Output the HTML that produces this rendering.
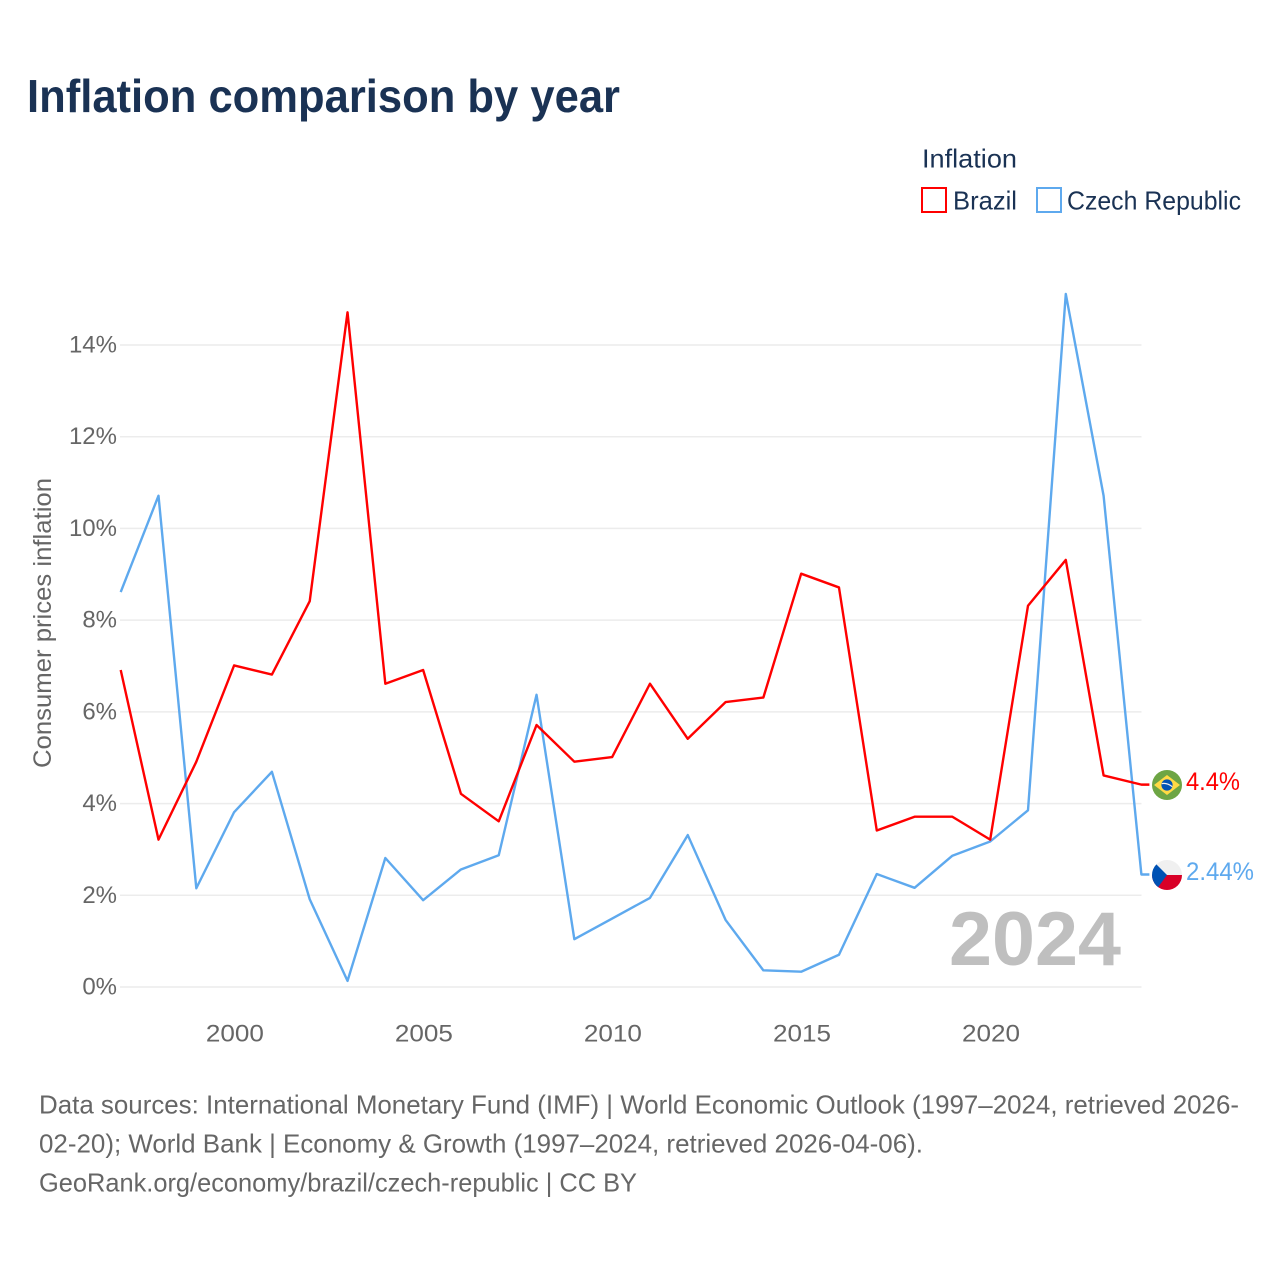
<!DOCTYPE html>
<html lang="en">
<head>
<meta charset="utf-8">
<title>Inflation comparison by year</title>
<style>
html,body{margin:0;padding:0;background:#fff;width:1280px;height:1280px;overflow:hidden}
svg{display:block}
text{font-family:"Liberation Sans",sans-serif}
.tick{font-size:24px;fill:#666}
.foot{font-size:26px;fill:#666}
.leg{font-size:26px;fill:#1a3254}
</style>
</head>
<body>
<svg id="chart" width="1280" height="1280" viewBox="0 0 1280 1280" xmlns="http://www.w3.org/2000/svg">
  <rect x="0" y="0" width="1280" height="1280" fill="#fff"/>
  <text x="27" y="112" font-size="46" font-weight="700" fill="#1a3254" textLength="593" lengthAdjust="spacingAndGlyphs">Inflation comparison by year</text>

  <g>
    <text class="leg" x="922" y="167.5" textLength="95" lengthAdjust="spacingAndGlyphs">Inflation</text>
    <rect x="922" y="188" width="24" height="24" fill="#fff" stroke="#ff0000" stroke-width="2"/>
    <text class="leg" x="953" y="209.5" textLength="64" lengthAdjust="spacingAndGlyphs">Brazil</text>
    <rect x="1037" y="188" width="24" height="24" fill="#fff" stroke="#5ea9ee" stroke-width="2"/>
    <text class="leg" x="1067" y="209.5" textLength="174" lengthAdjust="spacingAndGlyphs">Czech Republic</text>
  </g>

  <text transform="translate(51,768) rotate(-90)" font-size="25" fill="#666" textLength="290" lengthAdjust="spacingAndGlyphs">Consumer prices inflation</text>

  <g id="grid"></g>
  <g id="yticks"></g>
  <g id="xticks"></g>

  <text x="949" y="965" font-size="76" font-weight="700" fill="#bfbfbf" textLength="172" lengthAdjust="spacingAndGlyphs">2024</text>

  <g id="series"></g>

  <g id="flag-brazil">
    <clipPath id="clipBr"><circle cx="1167" cy="785" r="15"/></clipPath>
    <g clip-path="url(#clipBr)">
      <rect x="1152" y="770" width="30" height="30" fill="#6da544"/>
      <polygon points="1167,775 1180,785 1167,795 1154,785" fill="#ffda44"/>
      <circle cx="1167" cy="785" r="5.6" fill="#0052b4"/>
      <path d="M1161.8,783.6 Q1167,782.6 1172.2,786.6" fill="none" stroke="#f0f0f0" stroke-width="1.2"/>
    </g>
  </g>
  <g id="flag-czech">
    <clipPath id="clipCz"><circle cx="1167" cy="875" r="15"/></clipPath>
    <g clip-path="url(#clipCz)">
      <rect x="1152" y="860" width="30" height="15" fill="#f0f0f0"/>
      <rect x="1152" y="875" width="30" height="15" fill="#d80027"/>
      <polygon points="1152,860 1167,875 1156,890 1152,890" fill="#0052b4"/>
    </g>
  </g>

  <text id="label-brazil" x="1186" y="790" font-size="25" fill="#ff0000" textLength="54" lengthAdjust="spacingAndGlyphs">4.4%</text>
  <text id="label-czech" x="1186" y="880" font-size="25" fill="#5ea9ee" textLength="68" lengthAdjust="spacingAndGlyphs">2.44%</text>

  <g>
    <text class="foot" x="39" y="1113.5" textLength="1200" lengthAdjust="spacingAndGlyphs">Data sources: International Monetary Fund (IMF) | World Economic Outlook (1997–2024, retrieved 2026-</text>
    <text class="foot" x="39" y="1152.5" textLength="884" lengthAdjust="spacingAndGlyphs">02-20); World Bank | Economy &amp; Growth (1997–2024, retrieved 2026-04-06).</text>
    <text class="foot" x="39" y="1191.5" textLength="598" lengthAdjust="spacingAndGlyphs">GeoRank.org/economy/brazil/czech-republic | CC BY</text>
  </g>
</svg>
<script>
const years = [1997,1998,1999,2000,2001,2002,2003,2004,2005,2006,2007,2008,2009,2010,2011,2012,2013,2014,2015,2016,2017,2018,2019,2020,2021,2022,2023,2024];
const brazil = [6.9,3.2,4.9,7.0,6.8,8.4,14.7,6.6,6.9,4.2,3.6,5.7,4.9,5.0,6.6,5.4,6.2,6.3,9.0,8.7,3.4,3.7,3.7,3.2,8.3,9.3,4.6,4.4];
const czechRepublic = [8.6,10.7,2.14,3.8,4.68,1.9,0.12,2.8,1.88,2.55,2.86,6.36,1.03,1.48,1.93,3.3,1.45,0.35,0.32,0.69,2.45,2.15,2.85,3.16,3.84,15.1,10.7,2.44];
const yTickValues = [0,2,4,6,8,10,12,14];
const xTickValues = [2000,2005,2010,2015,2020];

const NS = 'http://www.w3.org/2000/svg';
function xScale(year){ return 120.7 + (year - 1997) * (1141.4 - 120.7) / (2024 - 1997); }
function yScale(v){ return 987 - v * (987 - 345) / 14; }
function lineY(v){ return yScale(v) - 0.6; }

const grid = document.getElementById('grid');
const yticks = document.getElementById('yticks');
const xticks = document.getElementById('xticks');
const seriesGroup = document.getElementById('series');

yTickValues.forEach(function(v){
  const line = document.createElementNS(NS, 'line');
  
  
  line.setAttribute('x1', 120);
  line.setAttribute('x2', 1141.5);
  line.setAttribute('y1', yScale(v));
  line.setAttribute('y2', yScale(v));
  line.setAttribute('stroke', '#ececec');
  line.setAttribute('stroke-width', 1.5);
  grid.appendChild(line);

  const t = document.createElementNS(NS, 'text');
  
  
  t.setAttribute('class', 'tick');
  t.setAttribute('x', 117);
  t.setAttribute('y', yScale(v) + 7.5);
  t.setAttribute('text-anchor', 'end');
  t.textContent = v + '%';
  yticks.appendChild(t);
});

xTickValues.forEach(function(y){
  const t = document.createElementNS(NS, 'text');
  
  
  t.setAttribute('class', 'tick');
  t.setAttribute('x', xScale(y) + 0.8);
  t.setAttribute('y', 1041.5);
  t.setAttribute('text-anchor', 'middle');
  t.setAttribute('textLength', 58);
  t.setAttribute('lengthAdjust', 'spacingAndGlyphs');
  t.textContent = y;
  xticks.appendChild(t);
});

function drawLine(values, color, name){
  const pts = values.map(function(v, i){ return xScale(years[i]).toFixed(2) + ',' + lineY(v).toFixed(2); });
  const last = values[values.length - 1];
  pts.push((xScale(years[years.length - 1]) + 8).toFixed(2) + ',' + lineY(last).toFixed(2));
  const p = document.createElementNS(NS, 'polyline');
  
  
  p.setAttribute('points', pts.join(' '));
  p.setAttribute('fill', 'none');
  p.setAttribute('stroke', color);
  p.setAttribute('stroke-width', 2.4);
  p.setAttribute('stroke-linejoin', 'round');
  seriesGroup.appendChild(p);
}
drawLine(czechRepublic, '#5ea9ee', 'line-czech-republic');
drawLine(brazil, '#ff0000', 'line-brazil');
</script>
</body>
</html>
